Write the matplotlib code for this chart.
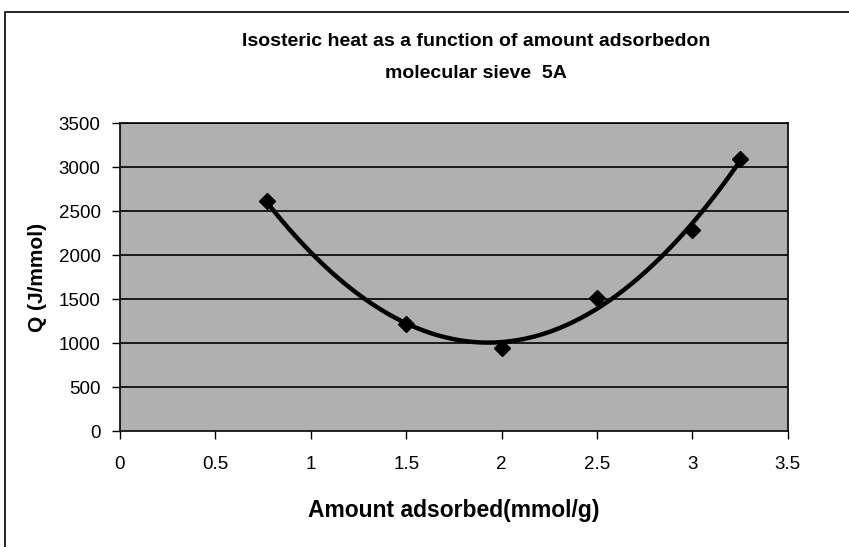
import numpy as np
import matplotlib
matplotlib.use('Agg')
import matplotlib.pyplot as plt
from matplotlib.patches import Rectangle

plt.rcParams['font.family'] = ['Liberation Sans', 'DejaVu Sans']

# measured isosteric heat on molecular sieve 5A
amount = [0.77, 1.5, 2.0, 2.5, 3.0, 3.25]      # mmol/g
heat = [2610, 1220, 940, 1510, 2290, 3090]     # J/mmol

fig = plt.figure(figsize=(8.49, 5.47), dpi=100)
ax = fig.add_axes([0.1413, 0.212, 0.7867, 0.563])

# grey plot area with black gridlines
ax.set_facecolor('#b0b0b0')
for y in range(500, 3501, 500):
    ax.axhline(y, color='black', lw=1.2, zorder=1)

# polynomial trendline over the data range
coef = np.polyfit(amount, heat, 2)
xs = np.linspace(min(amount), max(amount), 200)
ax.plot(xs, np.polyval(coef, xs), color='black', lw=3.2, zorder=3)
ax.plot(amount, heat, 'D', color='black', ms=8, zorder=4)

ax.set_xlim(0, 3.5)
ax.set_ylim(0, 3500)
ax.set_xticks(np.arange(0, 3.51, 0.5))
ax.set_xticklabels(['0', '0.5', '1', '1.5', '2', '2.5', '3', '3.5'])
ax.set_yticks(range(0, 3501, 500))
ax.tick_params(axis='both', direction='out', length=6, width=1, labelsize=13.5, colors='black')
ax.tick_params(axis='x', pad=12)
ax.tick_params(axis='y', pad=8)
for s in ax.spines.values():
    s.set_linewidth(1.2)
    s.set_color('black')

ax.set_xlabel('Amount adsorbed(mmol/g)', fontsize=16.5, fontweight='bold', labelpad=19)
ax.set_ylabel('Q (J/mmol)', fontsize=15, fontweight='bold', labelpad=8)

fig.text(0.561, 0.925, 'Isosteric heat as a function of amount adsorbedon',
         ha='center', va='center', fontsize=14, fontweight='bold')
fig.text(0.561, 0.866, 'molecular sieve  5A',
         ha='center', va='center', fontsize=14, fontweight='bold')

# chart border
fig.patches.append(Rectangle((5 / 849, -0.1), 1.1, 1.1 - 12 / 547,
                             transform=fig.transFigure, fill=False,
                             edgecolor='black', lw=1.2))

fig.savefig('out.png', dpi=100)
